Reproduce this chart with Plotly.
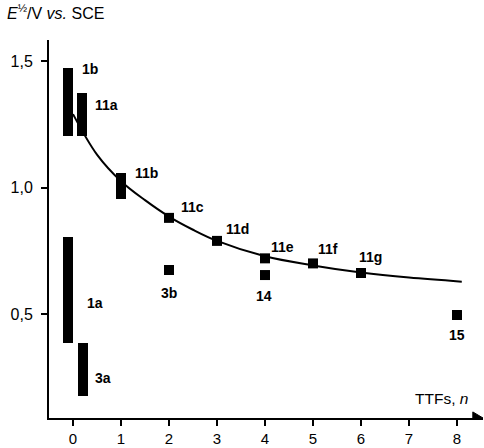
import plotly.graph_objects as go

# Bars (ranges of E1/2) : name, n position, bottom, top
bar_names = ["1b", "11a", "11b", "1a", "3a"]
bar_n = [-0.11, 0.19, 1.0, -0.1, 0.2]
bar_bottom = [1.204, 1.204, 0.953, 0.385, 0.176]
bar_top = [1.471, 1.372, 1.059, 0.804, 0.385]

# Single-value points
pt_names = ["11c", "11d", "11e", "11f", "11g", "3b", "14", "15"]
pt_n = [2, 3, 4, 5, 6, 2, 4, 8]
pt_e = [0.88, 0.789, 0.72, 0.70, 0.662, 0.674, 0.654, 0.496]

# Fitted curve
curve_n = [0.0, 0.5, 1.0, 1.5, 2.0, 2.5, 3.0, 4.0, 5.0, 6.0, 7.0, 8.1]
curve_e = [1.29, 1.13, 1.025, 0.95, 0.885, 0.833, 0.789, 0.728, 0.692, 0.664, 0.644, 0.628]

# Label positions
lab_text = ["1b", "11a", "11b", "11c", "11d", "11e", "11f", "11g", "1a", "3a", "3b", "14", "15"]
lab_n = [0.15, 0.42, 1.25, 2.21, 3.15, 4.08, 5.06, 5.92, 0.25, 0.42, 2.0, 3.98, 8.0]
lab_e = [1.47, 1.326, 1.056, 0.923, 0.836, 0.765, 0.757, 0.725, 0.543, 0.247, 0.583, 0.571, 0.417]
lab_anchor = ["left"] * 10 + ["center"] * 3

x_ticks = [0, 1, 2, 3, 4, 5, 6, 7, 8]
y_ticks = [0.5, 1.0, 1.5]

FONT = "Liberation Sans, Arial, sans-serif"
X_MIN, X_MAX = -0.5, 8.542
Y_MIN, Y_MAX = 0.089, 1.583

fig = go.Figure()

fig.add_trace(go.Scatter(x=curve_n, y=curve_e, mode="lines",
                         line=dict(color="black", width=2, shape="spline", smoothing=1.0),
                         hoverinfo="skip", showlegend=False))

fig.add_trace(go.Bar(x=bar_n, base=bar_bottom,
                     y=[t - b for t, b in zip(bar_top, bar_bottom)],
                     width=0.21, marker=dict(color="black", line=dict(width=0)),
                     hovertext=bar_names, hoverinfo="text",
                     showlegend=False))

fig.add_trace(go.Scatter(x=pt_n, y=pt_e, mode="markers",
                         marker=dict(symbol="square", size=10, color="black"),
                         hovertext=pt_names, hoverinfo="text", showlegend=False))

for t, xn, ye, anc in zip(lab_text, lab_n, lab_e, lab_anchor):
    fig.add_annotation(x=xn, y=ye, text="<b>%s</b>" % t, showarrow=False,
                       xanchor=anc, yanchor="middle",
                       font=dict(family=FONT, size=14, color="black"))

# axis titles
fig.add_annotation(xref="paper", yref="paper", x=-0.101, y=1.074,
                   xanchor="left", yanchor="middle",
                   text="<i>E</i><sup>½</sup>/V <i>vs.</i> SCE", showarrow=False,
                   font=dict(family=FONT, size=16, color="black"))
fig.add_annotation(x=8.28, y=0.168, xanchor="right", yanchor="middle",
                   text="TTFs, <i>n</i>", showarrow=False,
                   font=dict(family=FONT, size=15.5, color="black"))

# arrow head on x axis
fig.add_shape(type="path", xref="x", yref="y",
              path="M 8.33,0.065 L %f,0.089 L 8.33,0.113 Z" % X_MAX,
              fillcolor="black", line=dict(color="black", width=1), layer="above")

fig.update_layout(
    width=484, height=448,
    margin=dict(l=49, r=1, t=40, b=30, autoexpand=False),
    plot_bgcolor="white", paper_bgcolor="white",
    separators=", ",
    font=dict(family=FONT, size=15, color="black"),
    bargap=0,
    xaxis=dict(range=[X_MIN, X_MAX], tickvals=x_ticks, ticks="outside", ticklen=6,
               tickwidth=1.5, tickcolor="black", showline=True, linecolor="black",
               linewidth=2, showgrid=False, zeroline=False, fixedrange=True,
               tickfont=dict(family=FONT, size=15)),
    yaxis=dict(range=[Y_MIN, Y_MAX], tickvals=y_ticks, tickformat=".1f",
               ticks="outside", ticklen=6, tickwidth=1.5, tickcolor="black",
               showline=True, linecolor="black", linewidth=2, showgrid=False,
               zeroline=False, fixedrange=True, ticklabelstandoff=5,
               tickfont=dict(family=FONT, size=16)),
)

fig.write_html("out.html")
